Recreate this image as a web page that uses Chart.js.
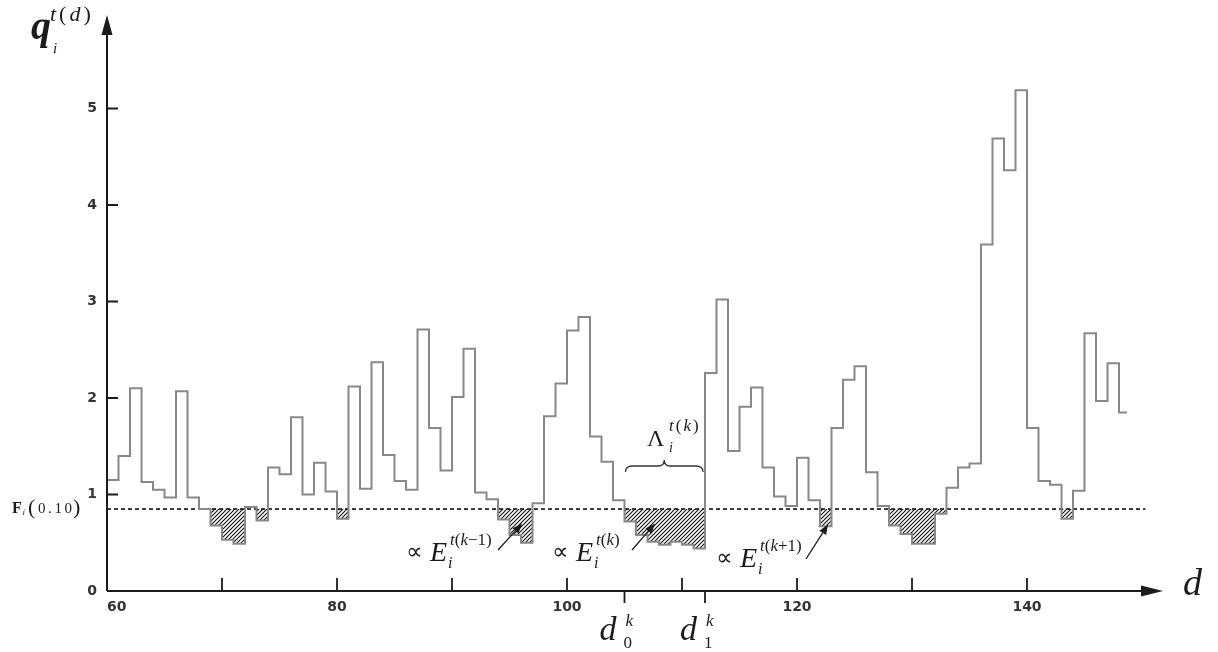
<!DOCTYPE html>
<html>
<head>
<meta charset="utf-8">
<script src="https://cdn.jsdelivr.net/npm/chart.js@4.4.1/dist/chart.umd.min.js"></script>
<style>
  html, body { margin: 0; padding: 0; background: #fff; }
  #wrap { width: 1218px; height: 652px; }
</style>
</head>
<body>
<div id="wrap"><canvas id="chart" width="1218" height="652"></canvas></div>
<script>
// step series q_i^{t(d)}, one value per day d
const days = [
    60, 61, 62, 63, 64, 65, 66, 67, 68, 69,
    70, 71, 72, 73, 74, 75, 76, 77, 78, 79,
    80, 81, 82, 83, 84, 85, 86, 87, 88, 89,
    90, 91, 92, 93, 94, 95, 96, 97, 98, 99,
    100, 101, 102, 103, 104, 105, 106, 107, 108, 109,
    110, 111, 112, 113, 114, 115, 116, 117, 118, 119,
    120, 121, 122, 123, 124, 125, 126, 127, 128, 129,
    130, 131, 132, 133, 134, 135, 136, 137, 138, 139,
    140, 141, 142, 143, 144, 145, 146, 147, 148
];
const qValues = [
    1.15, 1.40, 2.10, 1.13, 1.05, 0.97, 2.07, 0.97, 0.85, 0.68,
    0.53, 0.49, 0.87, 0.73, 1.28, 1.21, 1.80, 1.00, 1.33, 1.03,
    0.75, 2.12, 1.06, 2.37, 1.41, 1.14, 1.05, 2.71, 1.69, 1.25,
    2.01, 2.51, 1.02, 0.95, 0.74, 0.58, 0.50, 0.91, 1.81, 2.15,
    2.70, 2.84, 1.60, 1.34, 0.94, 0.72, 0.58, 0.51, 0.48, 0.51,
    0.48, 0.44, 2.26, 3.02, 1.45, 1.91, 2.11, 1.28, 0.98, 0.88,
    1.38, 0.94, 0.67, 1.69, 2.19, 2.33, 1.23, 0.88, 0.68, 0.59,
    0.49, 0.49, 0.80, 1.07, 1.28, 1.32, 3.59, 4.69, 4.36, 5.19,
    1.69, 1.14, 1.10, 0.75, 1.04, 2.67, 1.97, 2.36, 1.85
];
const lastDayEnd = 148.7;

// threshold F_i(0.10)
const threshold = 0.85;
const thresholdSpan = [60, 150.3];

// axes
const xLabelTicks = [60, 80, 100, 120, 140];
const xMarkTicks = [70, 80, 90, 100, 110, 120, 130, 140];
const yTicks = [0, 1, 2, 3, 4, 5];
const d0k = 105;
const d1k = 112;

const canvas = document.getElementById('chart');
const ctx0 = canvas.getContext('2d');

function hatchPattern() {
    const c = document.createElement('canvas');
    c.width = 4; c.height = 4;
    const g = c.getContext('2d');
    g.strokeStyle = '#111';
    g.lineWidth = 1.1;
    g.beginPath();
    g.moveTo(0, 4); g.lineTo(4, 0);
    g.moveTo(-1, 1); g.lineTo(1, -1);
    g.moveTo(3, 5); g.lineTo(5, 3);
    g.stroke();
    return ctx0.createPattern(c, 'repeat');
}

// each value holds from its day to the next one
const stepPoints = days.map((d, i) => ({ x: d, y: qValues[i] }));
stepPoints.push({ x: lastDayEnd, y: qValues[qValues.length - 1] });

const SERIF = '"Liberation Serif", "Times New Roman", serif';

// draws a little math string: letters italic, the rest upright
function mathRun(ctx, text, x, y, size, gap) {
    for (const ch of text) {
        ctx.font = (/[a-zA-Z]/.test(ch) ? 'italic ' : '') + size + 'px ' + SERIF;
        ctx.fillText(ch, x, y);
        x += ctx.measureText(ch).width + (gap || 0);
    }
    return x;
}

function put(ctx, s, x, y, font) {
    ctx.font = font;
    ctx.fillText(s, x, y);
}

function arrowHead(ctx, tx, ty, fx, fy, len, half) {
    const dx = tx - fx, dy = ty - fy;
    const l = Math.hypot(dx, dy);
    const ux = dx / l, uy = dy / l;
    const bx = tx - ux * len, by = ty - uy * len;
    ctx.beginPath();
    ctx.moveTo(tx, ty);
    ctx.lineTo(bx - uy * half, by + ux * half);
    ctx.lineTo(bx + uy * half, by - ux * half);
    ctx.closePath();
    ctx.fill();
}

function pointer(ctx, fx, fy, tx, ty) {
    ctx.lineWidth = 1.3;
    ctx.beginPath();
    ctx.moveTo(fx, fy);
    ctx.lineTo(tx - (tx - fx) * 0.25, ty - (ty - fy) * 0.25);
    ctx.stroke();
    arrowHead(ctx, tx, ty, fx, fy, 10, 4);
}

const notes = {
    id: 'notes',
    afterDraw(chart) {
        const { ctx, chartArea: a, scales: { x, y } } = chart;
        const ax = a.left;
        const ay = y.getPixelForValue(0);
        ctx.save();
        ctx.strokeStyle = '#1b1b1b';
        ctx.fillStyle = '#1b1b1b';

        // axes with arrows
        ctx.lineWidth = 2;
        ctx.beginPath();
        ctx.moveTo(ax, ay); ctx.lineTo(ax, a.top + 16);
        ctx.moveTo(ax, ay); ctx.lineTo(a.right - 18, ay);
        ctx.stroke();
        arrowHead(ctx, ax, a.top + 3, ax, ay, 20, 5.5);
        arrowHead(ctx, a.right - 2, ay, ax, ay, 22, 5.5);

        // inside tick marks
        ctx.lineWidth = 1.8;
        ctx.beginPath();
        yTicks.slice(1).forEach(v => {
            const py = y.getPixelForValue(v);
            ctx.moveTo(ax, py); ctx.lineTo(ax + 11, py);
        });
        xMarkTicks.forEach(v => {
            const px = x.getPixelForValue(v);
            ctx.moveTo(px, ay); ctx.lineTo(px, ay - 13);
        });
        [d0k, d1k].forEach(v => {
            const px = x.getPixelForValue(v);
            ctx.moveTo(px, ay); ctx.lineTo(px, ay + 12);
        });
        ctx.stroke();

        ctx.textBaseline = 'alphabetic';
        ctx.textAlign = 'left';

        // y axis title q_i^{t(d)}
        put(ctx, 'q', 31, 39, 'italic bold 40px ' + SERIF);
        mathRun(ctx, 't(d)', 50, 21, 22, 3);
        put(ctx, 'i', 53, 53, 'italic 15px ' + SERIF);

        // x axis title d
        put(ctx, 'd', 1183, 595, 'italic 38px ' + SERIF);

        // threshold label F_i(0.10)
        const ty = y.getPixelForValue(threshold) + 4;
        put(ctx, 'F', 12, ty, 'bold 16px ' + SERIF);
        put(ctx, 'i', 22.5, ty + 2, 'italic 9px ' + SERIF);
        put(ctx, '(', 28, ty + 1, '22px ' + SERIF);
        mathRun(ctx, '0.10', 38, ty, 15, 2.6);
        put(ctx, ')', 73, ty + 1, '22px ' + SERIF);

        // proportional-to-E annotations
        const eGroups = [
            { px: 407, base: 561, sup: 't(k\u22121)', tip: [96.1, 0.70], from: [498, 550] },
            { px: 553, base: 561, sup: 't(k)', tip: [107.65, 0.70], from: [632, 550] },
            { px: 717, base: 567, sup: 't(k+1)', tip: [122.7, 0.69], from: [806, 559] }
        ];
        eGroups.forEach(g => {
            put(ctx, '\u221D', g.px - 1, g.base - 2, '23px "DejaVu Sans", sans-serif');
            put(ctx, 'E', g.px + 23, g.base, 'italic 28px ' + SERIF);
            put(ctx, 'i', g.px + 41, g.base + 7, 'italic 16px ' + SERIF);
            mathRun(ctx, g.sup, g.px + 43, g.base - 16, 17, 0);
            pointer(ctx, g.from[0], g.from[1],
                x.getPixelForValue(g.tip[0]), y.getPixelForValue(g.tip[1]));
        });

        // Lambda with brace over [d0, d1]
        put(ctx, '\u039B', 647, 446, '24px ' + SERIF);
        mathRun(ctx, 't(k)', 669, 431, 17, 2);
        put(ctx, 'i', 669, 452, 'italic 14px ' + SERIF);

        const bl = x.getPixelForValue(d0k) + 1;
        const br = x.getPixelForValue(d1k) - 2;
        const bm = (bl + br) / 2;
        const by = 466;
        ctx.lineWidth = 1.3;
        ctx.strokeStyle = '#333';
        ctx.beginPath();
        ctx.moveTo(bl, by + 6);
        ctx.quadraticCurveTo(bl, by, bl + 7, by);
        ctx.lineTo(bm - 6, by);
        ctx.quadraticCurveTo(bm, by, bm, by - 6);
        ctx.quadraticCurveTo(bm, by, bm + 6, by);
        ctx.lineTo(br - 7, by);
        ctx.quadraticCurveTo(br, by, br, by + 6);
        ctx.stroke();

        // d_0^k and d_1^k under their ticks
        [[d0k, '0'], [d1k, '1']].forEach(([v, s]) => {
            const px = x.getPixelForValue(v);
            put(ctx, 'd', px - 25, 640, 'italic 34px ' + SERIF);
            put(ctx, s, px - 1, 648, '17px ' + SERIF);
            put(ctx, 'k', px + 1, 626, 'italic 17px ' + SERIF);
        });

        ctx.restore();
    }
};

const tickFont = { family: '"DejaVu Sans", sans-serif', size: 14, weight: 'bold' };

function build() {
    new Chart(canvas, {
        type: 'line',
        data: {
            datasets: [
                {
                    data: stepPoints,
                    stepped: 'before',
                    borderColor: '#888888',
                    borderWidth: 2,
                    pointRadius: 0,
                    fill: {
                        target: { value: threshold },
                        above: 'rgba(0,0,0,0)',
                        below: hatchPattern()
                    }
                },
                {
                    data: thresholdSpan.map(d => ({ x: d, y: threshold })),
                    borderColor: '#000000',
                    borderWidth: 1.4,
                    borderDash: [4, 3],
                    pointRadius: 0,
                    fill: false
                }
            ]
        },
        options: {
            responsive: false,
            animation: false,
            events: [],
            layout: { padding: { left: 0, right: 53, top: 12, bottom: 0 } },
            plugins: {
                legend: { display: false },
                tooltip: { enabled: false }
            },
            scales: {
                x: {
                    type: 'linear',
                    min: 60,
                    max: 152,
                    grid: { display: false, drawTicks: false },
                    border: { display: false },
                    afterBuildTicks: s => {
                        s.ticks = xLabelTicks.concat([152]).map(v => ({ value: v }));
                    },
                    afterFit: s => {
                        s.height = 61;
                        s.paddingLeft = 0;
                        s.paddingRight = 0;
                    },
                    ticks: {
                        align: 'inner',
                        padding: 8,
                        maxRotation: 0,
                        autoSkip: false,
                        color: '#333',
                        font: tickFont,
                        callback: v => xLabelTicks.includes(v) ? String(v) : ''
                    }
                },
                y: {
                    min: 0,
                    max: 6,
                    grid: { display: false, drawTicks: false },
                    border: { display: false },
                    afterBuildTicks: s => {
                        s.ticks = yTicks.map(v => ({ value: v }));
                    },
                    afterFit: s => {
                        s.width = 107;
                        s.paddingTop = 0;
                        s.paddingBottom = 0;
                    },
                    ticks: {
                        padding: 10,
                        color: '#333',
                        font: tickFont,
                        callback: v => String(v)
                    }
                }
            }
        },
        plugins: [notes]
    });
}

// make sure the serif faces are ready before the canvas text is drawn
Promise.all([
    document.fonts.load('italic 20px "Liberation Serif"'),
    document.fonts.load('20px "Liberation Serif"'),
    document.fonts.load('bold italic 20px "Liberation Serif"'),
    document.fonts.load('bold 20px "Liberation Serif"')
]).then(build, build);
</script>
</body>
</html>
